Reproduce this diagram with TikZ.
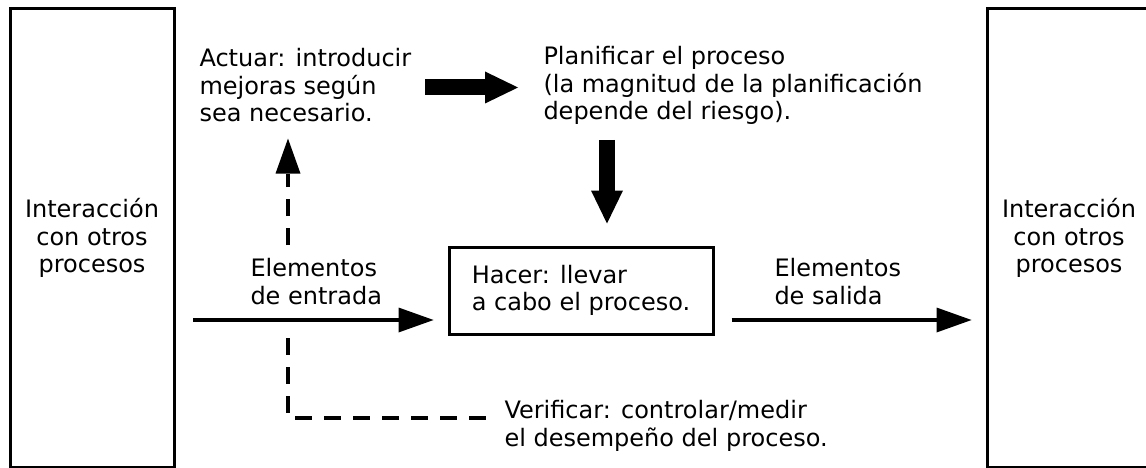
\documentclass[tikz,border=0pt]{standalone}
\usepackage{fontspec}
\setmainfont{DejaVu Sans}
\usetikzlibrary{%
  arrows,%
  arrows.meta,%
  positioning,% wg. " of "
  calc%
}

\tikzset{
  procbox/.style={draw, line width=3pt, align=center, inner sep=0pt},
  note/.style={align=left, anchor=north west, inner sep=0pt},
  flow/.style={line width=4pt, -{Triangle[length=35pt,width=25pt,line width=0pt]}},
  bigflow/.style={line width=16pt, -{Triangle[length=33pt,width=32pt,line width=0pt]}},
  checkline/.style={line width=4pt, dash pattern=on 17pt off 12pt},
}

\begin{document}
\begin{tikzpicture}[
  x=1pt, y=-1pt,
  font=\fontsize{24}{27.5}\selectfont,
  line width=3pt,
]
\useasboundingbox (0,0) rectangle (1146,468);

\node[procbox, minimum width=164pt, minimum height=458pt] (lbox) at (92,238) {Interacción\\con otros\\procesos};
\node[procbox, minimum width=164pt, minimum height=458pt] (rbox) at (1069,238) {Interacción\\con otros\\procesos};
\node[procbox, minimum width=264pt, minimum height=87pt, align=left] (hacer) at (581,290.5) {Hacer: llevar\\a cabo el proceso.};

\node[note] (act) at (198,47) {Actuar: introducir\\mejoras según\\sea necesario.};
\node[note] (plan) at (542,45) {Planificar el proceso\\(la magnitud de la planificación\\depende del riesgo).};
\node[note] (inlab) at (249,257) {Elementos\\de entrada};
\node[note] (outlab) at (773,257) {Elementos\\de salida};
\node[note] (verif) at (503,399) {Verificar: controlar/medir\\el desempeño del proceso.};

\coordinate (inA) at (193,320);
\coordinate (actR) at (425,87.5);
\coordinate (planA) at (607,140);
\coordinate (actA) at (288,245);
\coordinate (chkA) at (288,338);
\coordinate (chkB) at (288,418);

\draw[flow, shorten >=14pt] (inA) -- (inA -| hacer.west);
\draw[flow, shorten <=17pt, shorten >=14pt] (inA -| hacer.east) -- (inA -| rbox.west);

\draw[bigflow, shorten >=24pt] (actR) -- (actR -| plan.west);
\draw[bigflow, shorten >=22pt] (planA) -- (planA |- hacer.north);

\draw[checkline, -{Triangle[length=35pt,width=25pt,line width=0pt]}, shorten >=15pt] (actA) -- (actA |- act.south);
\draw[checkline, shorten >=16pt] (chkA) -- (chkB) -- (chkB -| verif.west);

\end{tikzpicture}
\end{document}
